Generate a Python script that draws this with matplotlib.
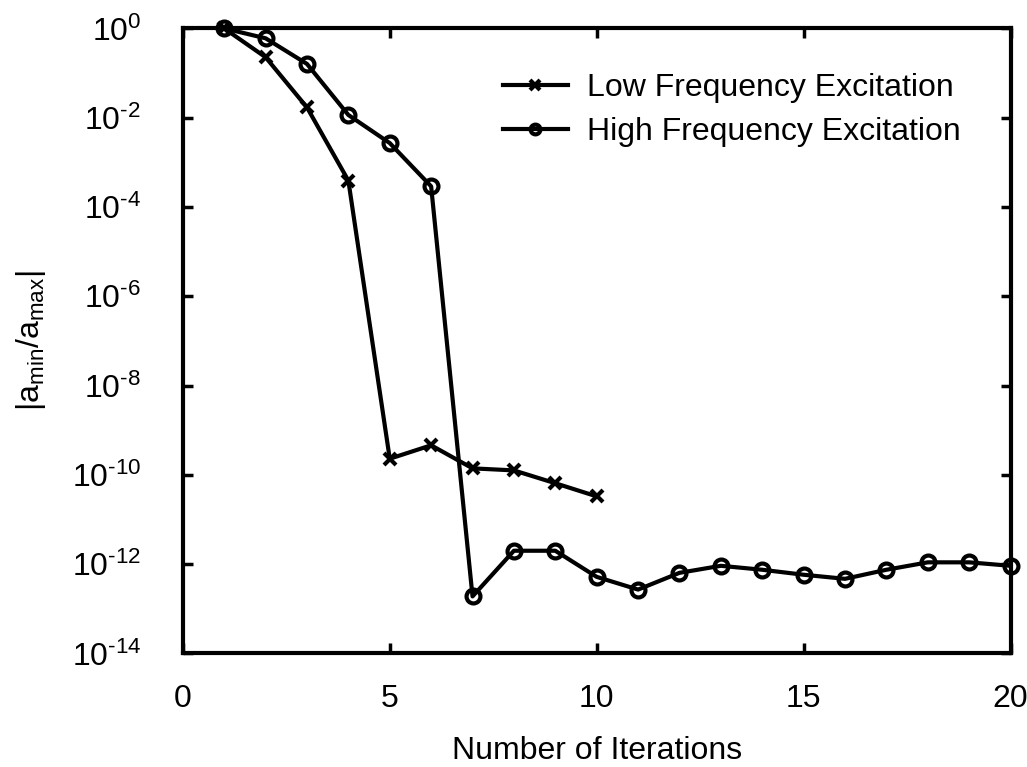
import matplotlib
matplotlib.use("Agg")
import matplotlib.pyplot as plt
from matplotlib.ticker import FixedLocator, FuncFormatter
import math

plt.rcParams['font.family'] = ['Liberation Sans', 'DejaVu Sans']
plt.rcParams['mathtext.default'] = 'regular'

iters_low = [1, 2, 3, 4, 5, 6, 7, 8, 9, 10]
ratio_low = [1.0, 0.226, 1.7e-2, 3.9e-4, 2.3e-10, 4.6e-10, 1.4e-10, 1.26e-10, 6.5e-11, 3.3e-11]

iters_high = list(range(1, 21))
ratio_high = [1.0, 0.6, 0.16, 1.15e-2, 2.7e-3, 2.9e-4, 1.9e-13, 2.0e-12, 2.0e-12, 5.2e-13,
              2.7e-13, 6.4e-13, 9.2e-13, 7.5e-13, 5.8e-13, 4.7e-13, 7.5e-13, 1.1e-12, 1.1e-12, 9.2e-13]

label_low = "Low Frequency Excitation"
label_high = "High Frequency Excitation"
xlabel = "Number of Iterations"
ylabel = r"$|a_{min}/a_{max}|$"
xticks = [0, 5, 10, 15, 20]
yticks = [1e0, 1e-2, 1e-4, 1e-6, 1e-8, 1e-10, 1e-12, 1e-14]


def fmt(v, pos):
    e = int(round(math.log10(v)))
    s = str(e).replace('-', '\u2010')
    return r'$10^{%s}$' % s


fig = plt.figure(figsize=(10.27, 7.67), dpi=100)
ax = fig.add_axes([0.178, 0.148, 0.806, 0.815])

ax.plot(iters_low, ratio_low, color='black', lw=3, marker='x', ms=8, mew=3,
        label=label_low, clip_on=False)
ax.plot(iters_high, ratio_high, color='black', lw=3, marker='o', ms=10, mew=3,
        mfc='none', label=label_high, clip_on=False)

ax.set_yscale('log')
ax.set_xlim(0, 20)
ax.set_ylim(1e-14, 1e0)
ax.xaxis.set_major_locator(FixedLocator(xticks))
ax.yaxis.set_major_locator(FixedLocator(yticks))
ax.yaxis.set_major_formatter(FuncFormatter(fmt))
ax.yaxis.set_minor_locator(FixedLocator([]))

for s in ax.spines.values():
    s.set_linewidth(3)

ax.tick_params(axis='both', which='major', direction='in', length=7, width=2.5,
               top=True, right=True, labelsize=23)
ax.tick_params(axis='y', pad=30)
ax.tick_params(axis='x', pad=22)

ax.set_xlabel(xlabel, fontsize=23, labelpad=16)
ax.set_ylabel(ylabel, fontsize=23, labelpad=17)

leg = ax.legend(loc='upper right', bbox_to_anchor=(0.975, 0.975), frameon=False,
                fontsize=23, handlelength=2.05, handletextpad=0.6, labelspacing=0.45)
for h in leg.legend_handles:
    h.set_markersize(7)

fig.savefig('out.png', dpi=100)
